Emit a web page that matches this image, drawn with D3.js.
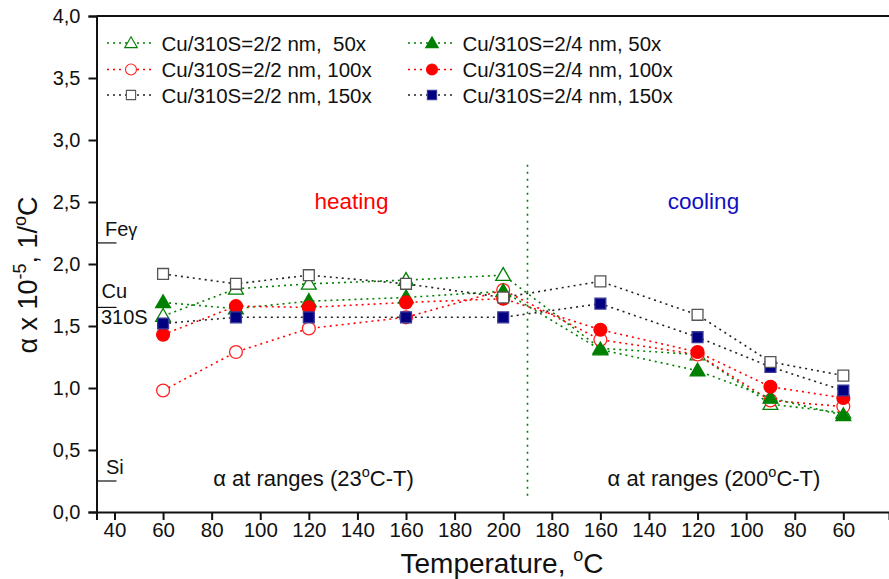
<!DOCTYPE html>
<html>
<head>
<meta charset="utf-8">
<script src="https://cdn.jsdelivr.net/npm/d3@7"></script>
<style>
  html, body { margin: 0; padding: 0; background: #fff; }
  svg text { font-family: "Liberation Sans", Arial, sans-serif; fill: #111; }
</style>
</head>
<body>
<svg id="chart" width="889" height="579"></svg>
<script>
// Measurement temperatures: heating run then cooling run
const heatingTemps = [60, 90, 120, 160, 200];
const coolingTemps = [160, 120, 90, 60];

// Thermal expansion coefficient (x 10^-5 1/°C) per sample, heating then cooling
const cu22_50x  = [1.58, 1.80, 1.84, 1.87, 1.91, 1.32, 1.27, 0.87, 0.80];
const cu22_100x = [0.98, 1.29, 1.48, 1.57, 1.79, 1.39, 1.27, 0.90, 0.85];
const cu22_150x = [1.92, 1.84, 1.91, 1.84, 1.73, 1.86, 1.59, 1.21, 1.10];
const cu24_50x  = [1.69, 1.64, 1.70, 1.73, 1.78, 1.31, 1.14, 0.92, 0.78];
const cu24_100x = [1.43, 1.66, 1.65, 1.69, 1.72, 1.47, 1.29, 1.01, 0.92];
const cu24_150x = [1.52, 1.57, 1.57, 1.57, 1.57, 1.68, 1.41, 1.17, 0.98];

const seriesNames = [
  "Cu/310S=2/2 nm,  50x", "Cu/310S=2/2 nm, 100x", "Cu/310S=2/2 nm, 150x",
  "Cu/310S=2/4 nm, 50x",  "Cu/310S=2/4 nm, 100x", "Cu/310S=2/4 nm, 150x"
];

// Axis tick labels (heating up to 200, then cooling back down)
const xTickLabels = [40, 60, 80, 100, 120, 140, 160, 180, 200, 180, 160, 140, 120, 100, 80, 60];
const yTickValues = [0, 0.5, 1, 1.5, 2, 2.5, 3, 3.5, 4];

// Reference expansion coefficients of bulk materials
const refNames = ["Fe", "Cu", "Si"];
const refValues = [2.17, 1.65, 0.25];

// Position along the run: heating T -> T, cooling T -> 400 - T
const pos = [...heatingTemps, ...coolingTemps.map(t => 400 - t)];
const tickPos = xTickLabels.map((t, i) => i <= 8 ? t : 400 - t);

const svg = d3.select("#chart");
const W = 889, H = 579;
const plotLeft = 96.5, plotTop = 16, plotBottom = 512;
const FONT = "Liberation Sans, Arial, sans-serif";

const x = d3.scaleLinear().domain([32.6, 358.8]).range([plotLeft, W]);
const y = d3.scaleLinear().domain([0, 4]).range([plotBottom, plotTop]);

const styles = [
  { color: "#008000", stroke: "#008000", shape: "tri",    fill: "#fff" },
  { color: "#ff0000", stroke: "#ff2020", shape: "circle", fill: "#fff" },
  { color: "#222",    stroke: "#555",    shape: "square", fill: "#fff" },
  { color: "#008000", stroke: "#008000", shape: "tri",    fill: "#008000" },
  { color: "#ff0000", stroke: "#ff0000", shape: "circle", fill: "#ff0000" },
  { color: "#222",    stroke: "#3a3a9a", shape: "square", fill: "#000080" }
];
const allSeries = [cu22_50x, cu22_100x, cu22_150x, cu24_50x, cu24_100x, cu24_150x];

function symbolPath(shape) {
  if (shape === "tri") return d3.symbol(d3.symbolTriangle, 95)();
  if (shape === "circle") return d3.symbol(d3.symbolCircle, 130)();
  return d3.symbol(d3.symbolSquare, 118)();
}

// Frame: top border and axes
svg.append("line").attr("x1", plotLeft).attr("x2", W).attr("y1", plotTop).attr("y2", plotTop)
  .attr("stroke", "#111").attr("stroke-width", 2);

const yAxis = svg.append("g").attr("transform", `translate(${plotLeft},0)`)
  .call(d3.axisLeft(y).tickValues(yTickValues).tickSize(8).tickPadding(8)
    .tickFormat(d => d3.format(".1f")(d).replace(".", ",")));
yAxis.select(".domain").attr("stroke", "#111").attr("stroke-width", 2);
yAxis.selectAll(".tick line").attr("stroke", "#111").attr("stroke-width", 2);
yAxis.selectAll(".tick text").attr("font-size", 20).attr("fill", "#111").attr("font-family", FONT);

const xAxis = svg.append("g").attr("transform", `translate(0,${plotBottom})`)
  .call(d3.axisBottom(x).tickValues(tickPos).tickSize(8).tickPadding(2)
    .tickFormat((d, i) => xTickLabels[i]));
xAxis.select(".domain").attr("stroke", "#111").attr("stroke-width", 2);
xAxis.selectAll(".tick line").attr("stroke", "#111").attr("stroke-width", 2);
xAxis.selectAll(".tick text").attr("font-size", 20.5).attr("fill", "#111").attr("font-family", FONT);

// Divider between the heating and cooling runs
svg.append("line")
  .attr("x1", x(210)).attr("x2", x(210))
  .attr("y1", y(2.8)).attr("y2", y(0.11))
  .attr("stroke", "#008000").attr("stroke-width", 1.6).attr("stroke-dasharray", "2,5");

// Reference marks for bulk materials
refValues.forEach(v => {
  svg.append("line").attr("x1", plotLeft).attr("x2", plotLeft + 20)
    .attr("y1", y(v)).attr("y2", y(v)).attr("stroke", "#111").attr("stroke-width", 1.2);
});
const fe = svg.append("text").attr("x", 105).attr("y", y(refValues[0]) - 7).attr("font-size", 20);
fe.append("tspan").text(refNames[0]);
fe.append("tspan").attr("font-size", 18).text("γ");
svg.append("text").attr("x", 101.5).attr("y", y(refValues[1]) - 9.5).attr("font-size", 20).text(refNames[1]);
svg.append("text").attr("x", 101).attr("y", y(refValues[1]) + 16.5).attr("font-size", 20).text("310S");
svg.append("text").attr("x", 106).attr("y", y(refValues[2]) - 7).attr("font-size", 20).text(refNames[2]);

// Run annotations
svg.append("text").attr("x", 351.5).attr("y", 209).attr("text-anchor", "middle")
  .attr("font-size", 22.5).style("fill", "#ff0000").text("heating");
svg.append("text").attr("x", 703.5).attr("y", 209).attr("text-anchor", "middle")
  .attr("font-size", 22.5).style("fill", "#1010c0").text("cooling");

function rangeLabel(cx, t) {
  const g = svg.append("text").attr("x", cx).attr("y", 486).attr("text-anchor", "middle")
    .attr("font-size", 22);
  g.append("tspan").text(`α at ranges (${t}`);
  g.append("tspan").attr("dy", -9).attr("font-size", 14.5).text("o");
  g.append("tspan").attr("dy", 9).text("C-T)");
}
rangeLabel(313.5, 23);
rangeLabel(714, 200);

// Series: dotted connecting lines then markers
const line = d3.line().x((d, i) => x(pos[i])).y(d => y(d));
const drawOrder = [0, 1, 3, 4, 5, 2];
drawOrder.forEach(k => {
  svg.append("path").datum(allSeries[k]).attr("d", line)
    .attr("fill", "none").attr("stroke", styles[k].color)
    .attr("stroke-width", 1.6).attr("stroke-dasharray", "2,4");
});
drawOrder.forEach(k => {
  const s = styles[k];
  svg.append("g").selectAll("path").data(allSeries[k]).join("path")
    .attr("d", symbolPath(s.shape))
    .attr("transform", (d, i) => `translate(${x(pos[i])},${y(d) + (s.shape === "tri" ? 1 : 0)})`)
    .attr("fill", s.fill).attr("stroke", s.stroke).attr("stroke-width", 1.3);
});

// Legend
const legendX = [107, 408], legendY = [43, 69.5, 95];
seriesNames.forEach((name, k) => {
  const col = Math.floor(k / 3), row = k % 3;
  const lx = legendX[col], ly = legendY[row];
  const s = styles[k];
  svg.append("line").attr("x1", lx).attr("x2", lx + 48).attr("y1", ly).attr("y2", ly)
    .attr("stroke", s.color).attr("stroke-width", 1.6).attr("stroke-dasharray", "2,4");
  svg.append("path").attr("d", symbolPath(s.shape))
    .attr("transform", `translate(${lx + 24},${ly + (s.shape === "tri" ? 1 : 0)}) scale(0.85)`)
    .attr("fill", s.fill).attr("stroke", s.stroke).attr("stroke-width", 1.3);
  svg.append("text").attr("x", lx + 54.5).attr("y", ly + 7.5).attr("font-size", 20.5)
    .style("white-space", "pre").text(name);
});

// Axis titles
const xt = svg.append("text").attr("x", 502).attr("y", 573).attr("text-anchor", "middle")
  .attr("font-size", 28);
xt.append("tspan").text("Temperature, ");
xt.append("tspan").attr("dy", -12).attr("font-size", 18).text("o");
xt.append("tspan").attr("dy", 12).text("C");

const yt = svg.append("text").attr("transform", "translate(37,275) rotate(-90)")
  .attr("text-anchor", "middle").attr("font-size", 27);
yt.append("tspan").text("α x 10");
yt.append("tspan").attr("dy", -11).attr("font-size", 18).text("-5");
yt.append("tspan").attr("dy", 11).text(", 1/");
yt.append("tspan").attr("dy", -11).attr("font-size", 18).text("o");
yt.append("tspan").attr("dy", 11).text("C");
</script>
</body>
</html>
